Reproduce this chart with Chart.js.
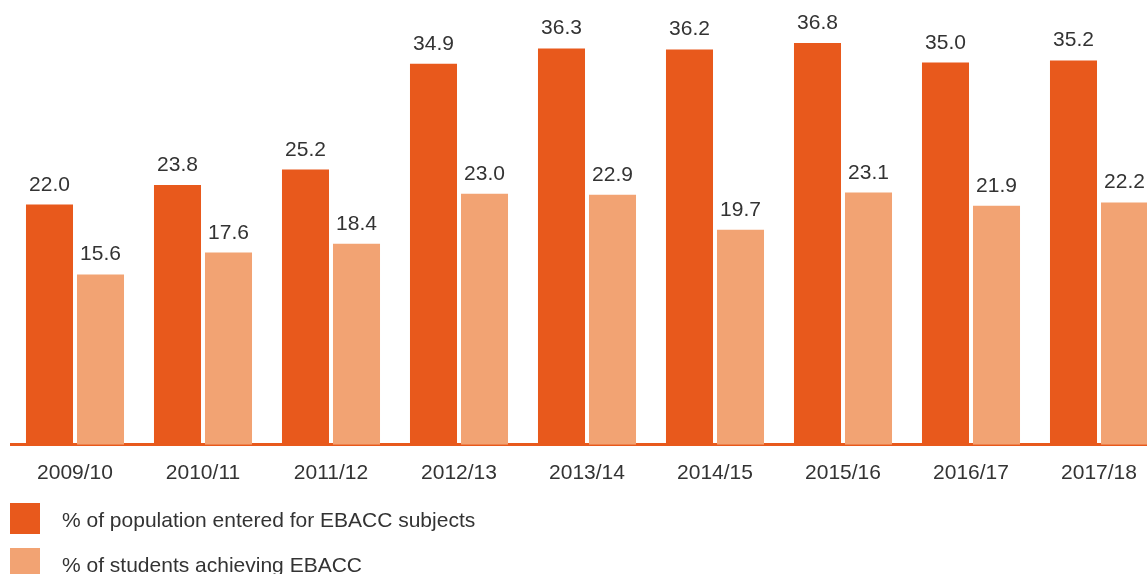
<!DOCTYPE html>
<html>
<head>
<meta charset="utf-8">
<script src="https://cdn.jsdelivr.net/npm/chart.js@4.4.1/dist/chart.umd.min.js"></script>
<style>
  html, body { margin: 0; padding: 0; background: #fff; overflow: hidden; }
  #wrap { width: 1163px; height: 600px; position: relative; }
</style>
</head>
<body>
<div id="wrap"><canvas id="myChart"></canvas></div>
<script>
const years = ['2009/10', '2010/11', '2011/12', '2012/13', '2013/14', '2014/15', '2015/16', '2016/17', '2017/18'];
const entered = [22.0, 23.8, 25.2, 34.9, 36.3, 36.2, 36.8, 35.0, 35.2];
const achieving = [15.6, 17.6, 18.4, 23.0, 22.9, 19.7, 23.1, 21.9, 22.2];

const textColor = '#333333';
const fontFamily = '"Liberation Sans", Arial, sans-serif';

// value labels above each bar
const valueLabels = {
    id: 'valueLabels',
    afterDatasetsDraw(chart) {
        const c = chart.ctx;
        c.save();
        c.font = '21px ' + fontFamily;
        c.fillStyle = textColor;
        c.textAlign = 'center';
        c.textBaseline = 'alphabetic';
        chart.data.datasets.forEach((ds, i) => {
            chart.getDatasetMeta(i).data.forEach((bar, j) => {
                c.fillText(ds.data[j].toFixed(1), bar.x, bar.y - 14);
            });
        });
        c.restore();
    }
};

// stacked legend at bottom-left
const stackedLegend = {
    id: 'stackedLegend',
    afterDraw(chart) {
        const c = chart.ctx;
        c.save();
        c.font = '21px ' + fontFamily;
        c.textBaseline = 'middle';
        chart.data.datasets.forEach((ds, i) => {
            const y = 503 + i * 45;
            c.fillStyle = ds.backgroundColor;
            c.fillRect(10, y, 30, 31);
            c.fillStyle = textColor;
            c.fillText(ds.label, 62, y + 18);
        });
        c.restore();
    }
};

const ctx = document.getElementById('myChart').getContext('2d');
const myChart = new Chart(ctx, {
    type: 'bar',
    data: {
        labels: years,
        datasets: [{
            label: '% of population entered for EBACC subjects',
            data: entered,
            backgroundColor: '#E8591C',
            categoryPercentage: 0.797,
            barPercentage: 0.922
        },
        {
            label: '% of students achieving EBACC',
            data: achieving,
            backgroundColor: '#F2A373',
            categoryPercentage: 0.797,
            barPercentage: 0.922
        }]
    },
    options: {
        responsive: true,
        maintainAspectRatio: false,
        animation: false,
        layout: {
            padding: { left: 11, right: 0, top: 8, bottom: 106 }
        },
        plugins: {
            legend: { display: false },
            tooltip: { enabled: false }
        },
        scales: {
            x: {
                grid: { display: false },
                border: { color: '#E8591C', width: 3 },
                ticks: {
                    color: textColor,
                    font: { family: fontFamily, size: 21 },
                    padding: 8,
                    maxRotation: 0
                }
            },
            y: {
                display: false,
                min: 0,
                max: 40
            }
        }
    },
    plugins: [valueLabels, stackedLegend]
});
</script>
</body>
</html>
